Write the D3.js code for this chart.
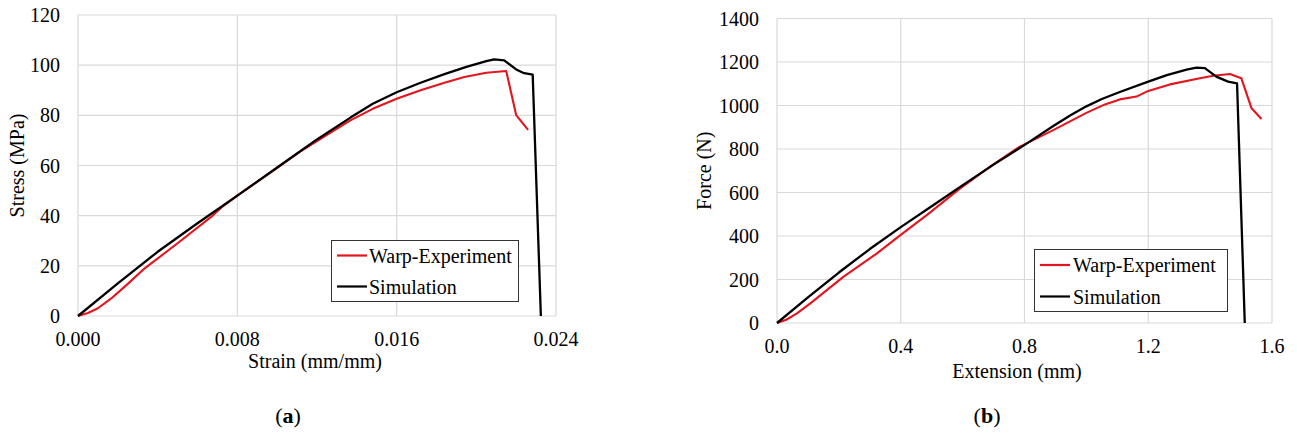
<!DOCTYPE html>
<html>
<head>
<meta charset="utf-8">
<script src="https://cdn.jsdelivr.net/npm/d3@7"></script>
<style>
  html, body { margin: 0; padding: 0; background: #fff; }
  svg { display: block; }
  text { font-family: "Liberation Serif", "Times New Roman", serif; fill: #000; }
</style>
</head>
<body>
<svg id="chart" width="1297" height="435"></svg>
<script>
// ---------- Data: (a) Stress vs Strain ----------
const strainTicks = [0.000, 0.008, 0.016, 0.024];
const stressTicks = [0, 20, 40, 60, 80, 100, 120];
const expStrain = [0, 0.0005, 0.001, 0.00167, 0.0025, 0.00335, 0.005, 0.0067, 0.0072, 0.008, 0.010, 0.01115, 0.0125, 0.0137, 0.0148, 0.016, 0.0172, 0.0184, 0.0194, 0.0205, 0.0215, 0.0220, 0.0226];
const expStress = [0, 1.2, 3.1, 7.0, 12.8, 19.0, 29.0, 39.6, 43.3, 48, 59, 65.5, 72.2, 78.1, 82.6, 86.6, 90.0, 93.0, 95.3, 97.0, 97.7, 80.1, 74.2];
const simStrain = [0, 0.002, 0.004, 0.006, 0.008, 0.010, 0.012, 0.0137, 0.0148, 0.016, 0.0172, 0.0184, 0.0195, 0.0205, 0.0209, 0.0214, 0.0220, 0.0224, 0.02283, 0.02324];
const simStress = [0, 13, 25.6, 37, 48, 59.2, 70.4, 79.2, 84.6, 89.2, 93.0, 96.4, 99.3, 101.6, 102.3, 101.9, 98.3, 96.8, 96.2, 0];

// ---------- Data: (b) Force vs Extension ----------
const extTicks = [0.0, 0.4, 0.8, 1.2, 1.6];
const forceTicks = [0, 200, 400, 600, 800, 1000, 1200, 1400];
const expExt = [0, 0.03, 0.0646, 0.1077, 0.2154, 0.323, 0.4, 0.485, 0.592, 0.69, 0.785, 0.893, 1.0, 1.06, 1.108, 1.162, 1.2, 1.27, 1.367, 1.41, 1.464, 1.501, 1.534, 1.566];
const expForce = [0, 15, 44, 90, 213, 320, 405, 497, 619, 720, 811, 887, 966, 1005, 1028, 1041, 1067, 1097, 1125, 1137, 1145, 1125, 987, 938];
const simExt = [0, 0.1, 0.2, 0.3, 0.4, 0.5, 0.592, 0.7, 0.808, 0.893, 0.95, 1.0, 1.05, 1.108, 1.2, 1.26, 1.324, 1.356, 1.383, 1.42, 1.458, 1.487, 1.512];
const simForce = [0, 118, 232, 340, 441, 537, 626, 728, 826, 906, 956, 996, 1030, 1062, 1110, 1140, 1165, 1174, 1172, 1133, 1110, 1102, 0];

const seriesNames = ["Warp-Experiment", "Simulation"];
const seriesColors = ["#e3151d", "#000000"];

const svg = d3.select("#chart");
const FS = 20;

function drawChart(cfg) {
  const x = d3.scaleLinear().domain(cfg.xDomain).range([cfg.left, cfg.right]);
  const y = d3.scaleLinear().domain(cfg.yDomain).range([cfg.bottom, cfg.top]);
  const g = svg.append("g");

  // gridlines
  g.append("g").selectAll("line").data(cfg.yTicks).join("line")
    .attr("x1", cfg.left).attr("x2", cfg.right)
    .attr("y1", d => y(d)).attr("y2", d => y(d))
    .attr("stroke", "#d9d9d9").attr("stroke-width", 1.2);
  g.append("g").selectAll("line").data(cfg.xTicks).join("line")
    .attr("x1", d => x(d)).attr("x2", d => x(d))
    .attr("y1", cfg.top).attr("y2", cfg.bottom)
    .attr("stroke", "#d9d9d9").attr("stroke-width", 1.2);

  // tick labels
  g.append("g").selectAll("text").data(cfg.yTicks).join("text")
    .attr("x", cfg.left - 18).attr("y", d => y(d))
    .attr("text-anchor", "end").attr("dominant-baseline", "central")
    .attr("font-size", FS)
    .text(d => d3.format("d")(d));
  g.append("g").selectAll("text").data(cfg.xTicks).join("text")
    .attr("x", d => x(d)).attr("y", cfg.xTickBaseline)
    .attr("text-anchor", "middle")
    .attr("font-size", FS)
    .text(d => d3.format(cfg.xFmt)(d));

  // axis titles
  g.append("text").attr("x", cfg.xTitleX).attr("y", cfg.xTitleY)
    .attr("text-anchor", "middle").attr("font-size", FS).text(cfg.xTitle);
  g.append("text")
    .attr("transform", `translate(${cfg.yTitleX},${(cfg.top + cfg.bottom) / 2}) rotate(-90)`)
    .attr("text-anchor", "middle").attr("dominant-baseline", "central")
    .attr("font-size", FS).text(cfg.yTitle);

  // lines
  const line = d3.line().x(d => x(d[0])).y(d => y(d[1]));
  cfg.series.forEach((s, i) => {
    g.append("path")
      .datum(d3.zip(s.xs, s.ys))
      .attr("fill", "none")
      .attr("stroke", seriesColors[i])
      .attr("stroke-width", i === 1 ? 2.3 : 2.1)
      .attr("stroke-linejoin", "round")
      .attr("d", line);
  });

  // legend
  const L = cfg.legend;
  g.append("rect").attr("x", L.x).attr("y", L.y).attr("width", L.w).attr("height", L.h)
    .attr("fill", "#fff").attr("stroke", "#333").attr("stroke-width", 1);
  seriesNames.forEach((name, i) => {
    const cy = L.rowY[i];
    g.append("line").attr("x1", L.lineX1).attr("x2", L.lineX2)
      .attr("y1", cy).attr("y2", cy)
      .attr("stroke", seriesColors[i]).attr("stroke-width", 2.2);
    g.append("text").attr("x", L.textX).attr("y", cy)
      .attr("dominant-baseline", "central").attr("font-size", FS).text(name);
  });

  // panel label
  const lab = g.append("text").attr("x", cfg.panelX).attr("y", 423)
    .attr("text-anchor", "middle").attr("font-size", 22);
  lab.append("tspan").text("(");
  lab.append("tspan").attr("font-weight", "bold").text(cfg.panel);
  lab.append("tspan").text(")");
}

drawChart({
  xDomain: [0, 0.024], yDomain: [0, 120],
  left: 78, right: 556, top: 15, bottom: 316,
  xTicks: strainTicks, yTicks: stressTicks, xFmt: ".3f",
  xTickBaseline: 346,
  xTitle: "Strain (mm/mm)", xTitleX: 315, xTitleY: 368,
  yTitle: "Stress (MPa)", yTitleX: 17,
  series: [{ xs: expStrain, ys: expStress }, { xs: simStrain, ys: simStress }],
  legend: { x: 331.5, y: 240.5, w: 187, h: 61, lineX1: 337, lineX2: 367, textX: 369, rowY: [255.5, 286.5] },
  panel: "a", panelX: 288
});

drawChart({
  xDomain: [0, 1.6], yDomain: [0, 1400],
  left: 777, right: 1272, top: 18.5, bottom: 323,
  xTicks: extTicks, yTicks: forceTicks, xFmt: ".1f",
  xTickBaseline: 353,
  xTitle: "Extension (mm)", xTitleX: 1017, xTitleY: 378,
  yTitle: "Force (N)", yTitleX: 704,
  series: [{ xs: expExt, ys: expForce }, { xs: simExt, ys: simForce }],
  legend: { x: 1034.5, y: 249.5, w: 193, h: 62, lineX1: 1040, lineX2: 1070, textX: 1073, rowY: [265, 296.5] },
  panel: "b", panelX: 987
});
</script>
</body>
</html>
